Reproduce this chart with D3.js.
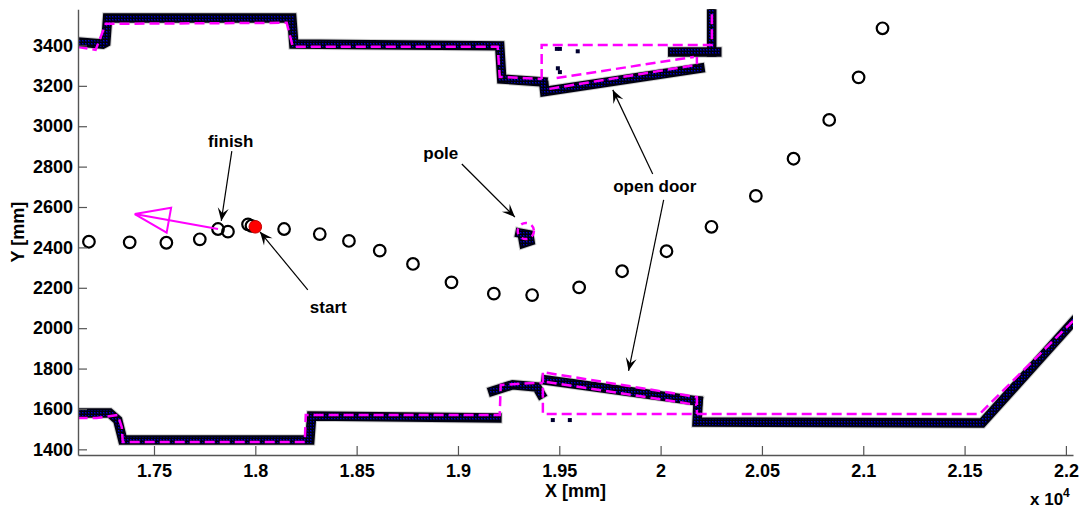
<!DOCTYPE html>
<html>
<head>
<meta charset="utf-8">
<script src="https://cdn.jsdelivr.net/npm/d3@7"></script>
<style>
  html, body { margin: 0; padding: 0; background: #fff; }
  svg { display: block; font-family: "Liberation Sans", Arial, Helvetica, sans-serif; font-weight: bold; }
</style>
</head>
<body>
<svg id="chart" width="1081" height="508"></svg>
<script>
// ---- robot poses along the run (mm) ----
const poseX = [17179, 17380, 17561, 17726, 17816, 17865, 17964, 17981, 18142, 18318, 18462, 18614, 18778,
               18968, 19177, 19366, 19598, 19810, 20029, 20251, 20470, 20656, 20832, 20977, 21095];
const poseY = [2428, 2425, 2423, 2440, 2491, 2478, 2514, 2507, 2491, 2466, 2432, 2384, 2318,
               2227, 2171, 2164, 2202, 2282, 2381, 2502, 2655, 2839, 3031, 3242, 3485];
const startPose = [18000, 2502];

// heading at the finish pose (from, to) in mm
const headingFrom = [17816, 2491];
const headingTo = [17405, 2565];

// ---- laser scan clusters, traced as polylines (mm) ----
const scanTopLeft = [[17123, 3417], [17247, 3407], [17262, 3415], [17271, 3536], [18180, 3536], [18190, 3407],
                     [19206, 3398], [19216, 3234], [19419, 3219]];
const scanDoorTop = [[19425, 3200], [19428, 3172], [20194, 3287]];
const scanTopRight = [[20060, 3368], [20277, 3368]];
const scanTopPost = [[20252, 3368], [20252, 3579]];
const scanBottomLeft = [[17123, 1580], [17281, 1580], [17321, 1545], [17346, 1446], [18269, 1446],
                        [18278, 1565], [19192, 1555]];
const scanBump = [[19172, 1689], [19270, 1720], [19389, 1709], [19409, 1674]];
const scanDoorBottom = [[19434, 1743], [20185, 1639]];
const scanBottomRight = [[20185, 1639], [20180, 1535], [21586, 1530], [22035, 2031]];
const scanPole = [[19306, 2471], [19350, 2462], [19355, 2432], [19325, 2422], [19320, 2450]];
const scanStrayX = [19488, 19503, 19591, 19493, 19503, 19468, 19552];
const scanStrayY = [3383, 3383, 3371, 3287, 3268, 1545, 1545];

// ---- map model lines (mm) ----
const mapTop = [[17123, 3393], [17212, 3378], [17262, 3507], [18155, 3512], [18185, 3393], [19196, 3393],
                [19206, 3244], [19413, 3234]];
const mapTopFrame = [[19413, 3234], [19413, 3402], [20253, 3402], [20253, 3579]];
const mapDoorTopA = [[19451, 3185], [20179, 3304], [20179, 3343]];
const mapDoorTopB = [[19487, 3239], [20164, 3343]];
const mapBottom = [[17123, 1555], [17217, 1555], [17321, 1570], [17341, 1510], [17346, 1436], [18244, 1436],
                   [18249, 1570], [19206, 1570], [19211, 1719], [19389, 1729], [19419, 1729]];
const mapBottomFrame = [[19419, 1779], [19419, 1575], [21574, 1575], [22035, 2036]];
const mapDoorBottomA = [[19438, 1779], [20179, 1659], [20179, 1575]];
const mapDoorBottomB = [[19438, 1734], [20179, 1620]];
const poleCentre = [19335, 2481];
const poleRadius = 40;

// ---- axis ticks ----
const xTicks = [17500, 18000, 18500, 19000, 19500, 20000, 20500, 21000, 21500, 22000];
const xTickLabels = ["1.75", "1.8", "1.85", "1.9", "1.95", "2", "2.05", "2.1", "2.15", "2.2"];
const yTicks = [1400, 1600, 1800, 2000, 2200, 2400, 2600, 2800, 3000, 3200, 3400];

// ---- annotations: label position and arrow (tail -> tip), mm ----
const notes = [
  { text: "finish", at: [17879, 2899], arrows: [[[17884, 2877], [17832, 2531]]] },
  { text: "start", at: [18360, 2075], arrows: [[[18259, 2190], [18023, 2477]]] },
  { text: "pole", at: [18915, 2839], arrows: [[[19019, 2813], [19281, 2550]]] },
  { text: "open door", at: [19971, 2675], arrows: [[[19961, 2764], [19764, 3180]], [[20015, 2635], [19842, 1789]]] }
];

// ---- layout ----
const svg = d3.select("#chart");
const plot = { left: 78, right: 1073, top: 9.3, bottom: 455 };
const x = d3.scaleLinear().domain([17125, 22035]).range([plot.left, plot.right]);
const y = d3.scaleLinear().domain([1372, 3579]).range([plot.bottom, plot.top]);

const defs = svg.append("defs");
defs.append("clipPath").attr("id", "plotClip").append("rect")
  .attr("x", plot.left).attr("y", plot.top)
  .attr("width", plot.right - plot.left).attr("height", plot.bottom - plot.top);
// dotted texture of the scan clusters: dark navy cells, black dots, a few blue highlights
const tex = defs.append("pattern").attr("id", "scanTex").attr("patternUnits", "userSpaceOnUse")
  .attr("width", 3).attr("height", 3);
tex.append("rect").attr("width", 3).attr("height", 3).attr("fill", "#000050");
tex.append("rect").attr("width", 3).attr("height", 1).attr("fill", "#000008");
tex.append("rect").attr("width", 1).attr("height", 3).attr("fill", "#000008");
tex.append("rect").attr("x", 1).attr("y", 1).attr("width", 1).attr("height", 1).attr("fill", "#0000d0");

const line = d3.line().x(d => x(d[0])).y(d => y(d[1]));
const g = svg.append("g").attr("clip-path", "url(#plotClip)");

// scan clusters: soft grey rim, black body, dotted navy core
const scans = [scanTopLeft, scanDoorTop, scanTopRight, scanTopPost, scanBottomLeft, scanBump,
               scanDoorBottom, scanBottomRight, scanPole];
const scanLayer = g.append("g");
[["#cfcfcf", 11.5], ["#000010", 9.5], ["url(#scanTex)", 6]].forEach(([col, w]) => {
  scanLayer.selectAll(null).data(scans).join("path")
    .attr("d", line).attr("fill", "none").attr("stroke", col).attr("stroke-width", w)
    .attr("stroke-linejoin", "miter").attr("stroke-linecap", "square");
});
scanLayer.selectAll(null).data(d3.range(scanStrayX.length)).join("rect")
  .attr("x", i => x(scanStrayX[i]) - 2).attr("y", i => y(scanStrayY[i]) - 2)
  .attr("width", 4).attr("height", 4).attr("fill", "#000030");

// map model: magenta dashed
const maps = [mapTop, mapTopFrame, mapDoorTopA, mapDoorTopB, mapBottom, mapBottomFrame, mapDoorBottomA, mapDoorBottomB];
g.append("g").selectAll("path").data(maps).join("path")
  .attr("d", line).attr("fill", "none").attr("stroke", "#ff00ff").attr("stroke-width", 2.5)
  .attr("stroke-dasharray", "10,5");
g.append("ellipse")
  .attr("cx", x(poleCentre[0])).attr("cy", y(poleCentre[1]))
  .attr("rx", x(poleCentre[0] + poleRadius) - x(poleCentre[0]))
  .attr("ry", y(poleCentre[1]) - y(poleCentre[1] + poleRadius))
  .attr("fill", "none").attr("stroke", "#ff00ff").attr("stroke-width", 2.5).attr("stroke-dasharray", "6,5");

// robot poses
g.append("g").selectAll("circle").data(poseX).join("circle")
  .attr("cx", (d, i) => x(d)).attr("cy", (d, i) => y(poseY[i])).attr("r", 5.8)
  .attr("fill", "none").attr("stroke", "#000").attr("stroke-width", 2.2);
g.append("circle").attr("cx", x(startPose[0])).attr("cy", y(startPose[1])).attr("r", 6.3)
  .attr("fill", "#ff0000").attr("stroke", "#c00000").attr("stroke-width", 1);

// heading arrow (open triangular head)
{
  const x1 = x(headingFrom[0]), y1 = y(headingFrom[1]), x2 = x(headingTo[0]), y2 = y(headingTo[1]);
  const dx = x2 - x1, dy = y2 - y1, L = Math.hypot(dx, dy), ux = dx / L, uy = dy / L;
  const hl = 0.41 * L, hw = 0.15 * L;
  const bx = x2 - ux * hl, by = y2 - uy * hl;
  const head = [[x2, y2], [bx - uy * hw, by + ux * hw], [bx + uy * hw, by - ux * hw], [x2, y2]];
  g.append("path").attr("d", `M${x1},${y1}L${x2},${y2}`).attr("stroke", "#ff00ff").attr("stroke-width", 2).attr("fill", "none");
  g.append("path").attr("d", d3.line()(head)).attr("stroke", "#ff00ff").attr("stroke-width", 2).attr("fill", "none")
    .attr("stroke-linejoin", "miter");
}

// axes
const axisColor = "#555";
const yAxis = svg.append("g").attr("transform", `translate(${plot.left},0)`)
  .call(d3.axisLeft(y).tickValues(yTicks).tickFormat(d3.format("d")).tickSize(-9).tickSizeOuter(0).tickPadding(5));
const xAxis = svg.append("g").attr("transform", `translate(0,${plot.bottom})`)
  .call(d3.axisBottom(x).tickValues(xTicks).tickFormat((d, i) => xTickLabels[i]).tickSize(-9).tickSizeOuter(0).tickPadding(9));
[yAxis, xAxis].forEach(a => {
  a.select(".domain").attr("stroke", axisColor).attr("stroke-width", 1.4);
  a.selectAll(".tick line").attr("stroke", axisColor).attr("stroke-width", 1.2);
  a.selectAll(".tick text").attr("fill", "#000").style("font-size", "18px").style("font-weight", "bold")
    .style("font-family", '"Liberation Sans", Arial, sans-serif');
});

// axis titles
svg.append("text").attr("x", (plot.left + plot.right) / 2).attr("y", 497).attr("text-anchor", "middle")
  .style("font-size", "18px").text("X [mm]");
svg.append("text").attr("transform", `translate(24,${(plot.top + plot.bottom) / 2}) rotate(-90)`)
  .attr("text-anchor", "middle").style("font-size", "18px").text("Y [mm]");
const mult = svg.append("text").attr("x", 1030).attr("y", 505).style("font-size", "17px");
mult.append("tspan").text("x 10");
mult.append("tspan").attr("dy", -8).style("font-size", "12px").text("4");

// annotations
function arrowHead(x1, y1, x2, y2, len, half, notch) {
  const dx = x2 - x1, dy = y2 - y1, L = Math.hypot(dx, dy), ux = dx / L, uy = dy / L;
  return [[x2, y2],
          [x2 - ux * len - uy * half, y2 - uy * len + ux * half],
          [x2 - ux * len * notch, y2 - uy * len * notch],
          [x2 - ux * len + uy * half, y2 - uy * len - ux * half]];
}
const ann = svg.append("g");
notes.forEach(n => {
  ann.append("text").attr("x", x(n.at[0])).attr("y", y(n.at[1])).attr("text-anchor", "middle")
    .style("font-size", "17px").text(n.text);
  n.arrows.forEach(([t, h]) => {
    const x1 = x(t[0]), y1 = y(t[1]), x2 = x(h[0]), y2 = y(h[1]);
    ann.append("line").attr("x1", x1).attr("y1", y1).attr("x2", x2).attr("y2", y2)
      .attr("stroke", "#000").attr("stroke-width", 1.2);
    ann.append("path").attr("d", d3.line()(arrowHead(x1, y1, x2, y2, 13, 5.5, 0.6)) + "Z").attr("fill", "#000");
  });
});
</script>
</body>
</html>
